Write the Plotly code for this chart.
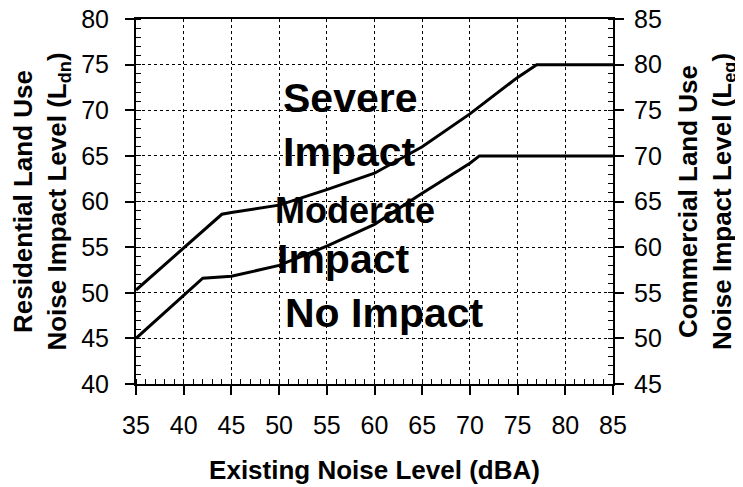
"""Noise impact criteria chart (residential / commercial land use)."""

import plotly.graph_objects as go

# Existing noise level (dBA) and impact thresholds
severe_x = [35, 44, 45, 50, 55, 60, 65, 70, 75, 77, 85]
severe_y = [50.3, 58.6, 58.8, 59.6, 61.3, 63.1, 66.0, 69.6, 73.6, 75, 75]

moderate_x = [35, 42, 45, 50, 55, 60, 65, 70, 71, 85]
moderate_y = [45, 51.6, 51.8, 53.0, 55.1, 57.5, 60.9, 64.2, 65, 65]

# Commercial (Leq) scale sits 5 dB above the residential (Ldn) scale
commercial_offset = 5

# Zone labels: (text, x, y, font size)
zone_labels = [
    ("Severe", 50.2, 71.3, 41),
    ("Impact", 50.2, 65.4, 41),
    ("Moderate", 49.4, 59.0, 36),
    ("Impact", 49.6, 53.7, 41),
    ("No Impact", 50.4, 47.8, 41),
]

FONT = "Arial, Liberation Sans, sans-serif"
PAGE_PAD = 8  # default body margin of the html page

fig = go.Figure()

for xs, ys in [(severe_x, severe_y), (moderate_x, moderate_y)]:
    fig.add_trace(
        go.Scatter(
            x=xs,
            y=ys,
            mode="lines",
            line=dict(color="black", width=3),
            showlegend=False,
            hoverinfo="skip",
        )
    )

# same threshold on the commercial scale, drawn transparent so the right axis renders
fig.add_trace(
    go.Scatter(
        x=severe_x,
        y=[v + commercial_offset for v in severe_y],
        yaxis="y2",
        mode="lines",
        line=dict(color="rgba(0,0,0,0)", width=0),
        showlegend=False,
        hoverinfo="skip",
    )
)

for text, x, y, size in zone_labels:
    fig.add_annotation(
        text=f"<b>{text}</b>",
        x=x,
        y=y,
        xref="x",
        yref="y",
        xanchor="left",
        yanchor="middle",
        showarrow=False,
        font=dict(family=FONT, size=size, color="black"),
    )

axis_common = dict(
    showline=True,
    linecolor="black",
    linewidth=2,
    ticks="outside",
    ticklen=9,
    tickwidth=1.5,
    tickcolor="black",
    dtick=5,
    tickfont=dict(family=FONT, size=25, color="black"),
    ticklabeloverflow="allow",
    zeroline=False,
    automargin=False,
    minor=dict(ticks="inside", dtick=1, ticklen=5, tickwidth=1, tickcolor="black", showgrid=False),
)

fig.update_layout(
    width=743 - PAGE_PAD,
    height=487 - PAGE_PAD,
    margin=dict(l=136 - PAGE_PAD, r=130, t=19 - PAGE_PAD, b=103),
    plot_bgcolor="white",
    paper_bgcolor="white",
    font=dict(family=FONT, color="black"),
    showlegend=False,
    xaxis=dict(
        range=[35, 85],
        mirror=True,
        showgrid=True,
        gridcolor="black",
        gridwidth=1,
        griddash="3px,3px",
        ticklabelstandoff=9,
        title=dict(
            text="<b>Existing Noise Level (dBA)</b>",
            font=dict(family=FONT, size=26),
            standoff=23,
        ),
        **axis_common,
    ),
    yaxis=dict(
        range=[40, 80],
        showgrid=True,
        gridcolor="black",
        gridwidth=1,
        griddash="3px,3px",
        ticklabelstandoff=11,
        title=dict(
            text="<b>Residential Land Use<br>Noise Impact Level (L<sub>dn</sub>)</b>",
            font=dict(family=FONT, size=26),
            standoff=10,
        ),
        **axis_common,
    ),
    yaxis2=dict(
        range=[45, 85],
        overlaying="y",
        side="right",
        showgrid=False,
        ticklabelstandoff=5,
        title=dict(
            text="<b>Commercial Land Use<br>Noise Impact Level (L<sub>eq</sub>)</b>",
            font=dict(family=FONT, size=26),
            standoff=18,
        ),
        **axis_common,
    ),
)

fig.write_html("out.html")
